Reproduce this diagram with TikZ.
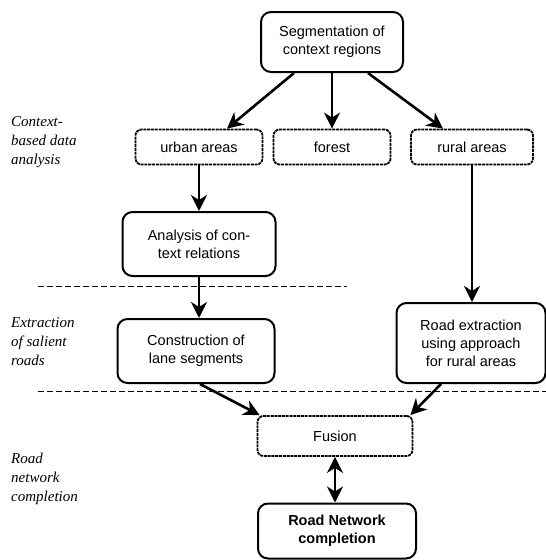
\documentclass[tikz,border=0pt]{standalone}
\usepackage{fontspec}
\setmainfont{Liberation Serif}
\setsansfont{Liberation Sans}
\usepackage{tikz}
\usetikzlibrary{arrows.meta}
\tikzset{
  rnbox/.style={draw=black, line width=2pt, rounded corners=10pt, align=center, font=\sffamily\fontsize{14.5}{18}\selectfont, inner sep=0pt},
  rndot/.style={draw=black, line width=1.8pt, dash pattern=on 3pt off 0.8pt, rounded corners=6pt, align=center, font=\sffamily\fontsize{14.5}{18}\selectfont, inner sep=0pt},
  rnarrow/.style={line width=2.6pt, draw=black, -{Stealth[length=16pt,width=16pt,inset=5pt]}},
  rnboth/.style={line width=2.6pt, draw=black, {Stealth[length=16pt,width=16pt,inset=5pt]}-{Stealth[length=16pt,width=16pt,inset=5pt]}},
  rnsep/.style={line width=1pt, draw=black, dash pattern=on 6pt off 3pt},
  rnside/.style={anchor=west, align=left, font=\rmfamily\itshape\fontsize{15}{19}\selectfont, inner sep=0pt},
}
\begin{document}
\begin{tikzpicture}[x=1pt, y=-1pt]
\useasboundingbox (0,0) rectangle (546,560);
\node[rnbox, minimum width=142pt, minimum height=60pt] (seg) at (332,42) {Segmentation of\\context regions};
\node[rndot, minimum width=127pt, minimum height=35pt] (urban) at (199,147) {urban areas};
\node[rndot, minimum width=117pt, minimum height=35pt] (forest) at (332,147) {forest};
\node[rndot, minimum width=122pt, minimum height=35pt] (rural) at (472,147) {rural areas};
\node[rnbox, minimum width=153pt, minimum height=64pt] (analysis) at (199,244) {Analysis of con-\\text relations};
\node[rnbox, minimum width=157pt, minimum height=64pt] (constr) at (196,351) {Construction of\\lane segments};
\node[rnbox, minimum width=149pt, minimum height=80pt] (roadext) at (471,343) {Road extraction\\using approach\\for rural areas};
\node[rndot, minimum width=155pt, minimum height=40pt] (fusion) at (335,436) {Fusion};
\node[rnbox, minimum width=158pt, minimum height=55pt, font=\sffamily\bfseries\fontsize{14.5}{18}\selectfont] (rnc) at (337,531) {Road Network\\completion};
\node[rnside] (lab1) at (11,142) {Context-\\based data\\analysis};
\node[rnside] (lab2) at (11,342) {Extraction\\of salient\\roads};
\node[rnside] (lab3) at (11,479) {Road\\network\\completion};
\draw[rnsep] (38,286) -- (347,286);
\draw[rnsep] (38,391) -- (546,391);
\draw[rnarrow] ([xshift=-38pt]seg.south) -- ([xshift=28pt]urban.north);
\draw[rnarrow] (seg.south) -- (forest.north);
\draw[rnarrow] ([xshift=36pt]seg.south) -- ([xshift=-29pt]rural.north);
\draw[rnarrow] (urban.south) -- (analysis.north);
\draw[rnarrow] (analysis.south) -- (analysis.south |- constr.north);
\draw[rnarrow] (rural.south) -- (rural.south |- roadext.north);
\draw[rnarrow] ([xshift=4pt]constr.south) -- ([xshift=3pt]fusion.north west);
\draw[rnarrow] ([xshift=-30pt]roadext.south) -- ([xshift=-3pt]fusion.north east);
\draw[rnboth] (fusion.south) -- (fusion.south |- rnc.north);
\end{tikzpicture}
\end{document}
